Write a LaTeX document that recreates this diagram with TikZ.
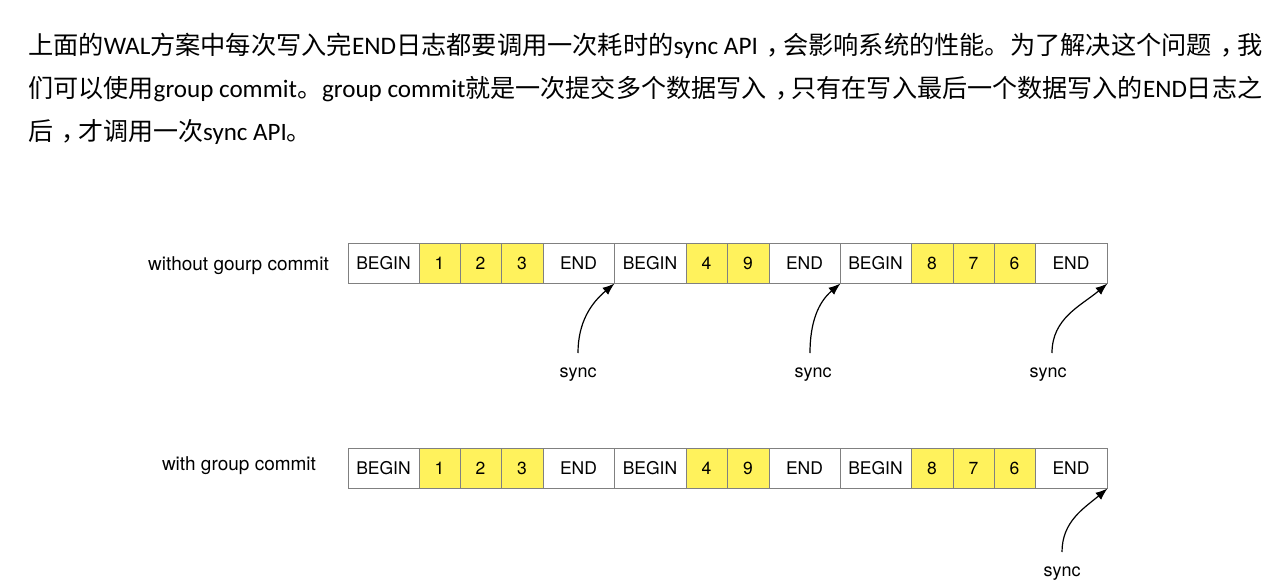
\documentclass[tikz,border=0pt]{standalone}
\usepackage{fontspec}
\setmainfont{TeX Gyre Heros}
\newfontfamily\cjk{Noto Sans CJK SC}
\newfontfamily\lat{Carlito}
\newcommand\zh[1]{{\cjk #1}}
\newcommand\zcomma{{\cjk\hspace{0.35em}，\hspace{-0.35em}}}
\definecolor{cellyellow}{RGB}{255,242,92}
\definecolor{cellline}{RGB}{128,128,128}
\usetikzlibrary{arrows.meta}
\begin{document}
\begin{tikzpicture}[x=1pt,y=-1pt,
  cellbox/.style={draw=cellline, line width=1pt, minimum height=40pt, inner sep=0pt, font=\fontsize{17.5}{17.5}\selectfont},
  ycell/.style={cellbox, fill=cellyellow},
  wcell/.style={cellbox, fill=white},
  rowlabel/.style={inner sep=0pt, font=\fontsize{19}{19}\selectfont},
  synclabel/.style={inner sep=0pt, font=\fontsize{18}{18}\selectfont},
  syncarrow/.style={line width=1.2pt, -{Latex[length=12pt,width=9pt]}},
  para/.style={anchor=base west, inner sep=0pt, font=\lat\fontsize{25}{25}\selectfont}
]
\useasboundingbox[fill=white] (0,0) rectangle (1272,581);

\node[para] (t1) at (28,54) {\resizebox{1234pt}{!}{\zh{上面的}WAL\zh{方案中每次写入完}END\zh{日志都要调用一次耗时的}sync API\zcomma\zh{会影响系统的性能。为了解决这个问题}\zcomma\zh{我}}};
\node[para] (t2) at (28,97) {\resizebox{1234pt}{!}{\zh{们可以使用}group commit\zh{。}group commit\zh{就是一次提交多个数据写入}\zcomma\zh{只有在写入最后一个数据写入的}END\zh{日志之}}};
\node[para] (t3) at (28,140) {\zh{后}\zcomma\zh{才调用一次}sync API\zh{。}};

\foreach \r/\y in {1/263, 2/468} {
  \foreach \i/\a/\b/\t/\s in {1/348/419/BEGIN/wcell, 2/419/460/1/ycell, 3/460/501/2/ycell, 4/501/543/3/ycell, 5/543/614/END/wcell,
                              6/614/686/BEGIN/wcell, 7/686/727/4/ycell, 8/727/769/9/ycell, 9/769/840/END/wcell,
                              10/840/911/BEGIN/wcell, 11/911/953/8/ycell, 12/953/994/7/ycell, 13/994/1035/6/ycell, 14/1035/1107/END/wcell} {
    \node[\s, minimum width={(\b-\a)*1pt}] (r\r c\i) at ({(\a+\b)/2},\y) {\t};
  }
}

\node[rowlabel, anchor=east] (lab1) at (329,266) {without gourp commit};
\node[rowlabel] (lab2) at (239,466) {with group commit};

\node[synclabel] (s1) at (578,375) {sync};
\node[synclabel] (s2) at (813,375) {sync};
\node[synclabel] (s3) at (1048,375) {sync};
\node[synclabel] (s4) at (1062,574) {sync};

\coordinate (s1a) at (578,353);
\coordinate (s2a) at (810,353);
\coordinate (s3a) at (1052,353);
\coordinate (s4a) at (1062,552);
\draw[syncarrow] (s1a) to[out=90,in=-140] (r1c5.south east);
\draw[syncarrow] (s2a) to[out=90,in=-140] (r1c9.south east);
\draw[syncarrow] (s3a) to[out=90,in=-140] (r1c14.south east);
\draw[syncarrow] (s4a) to[out=90,in=-140] (r2c14.south east);
\end{tikzpicture}
\end{document}
